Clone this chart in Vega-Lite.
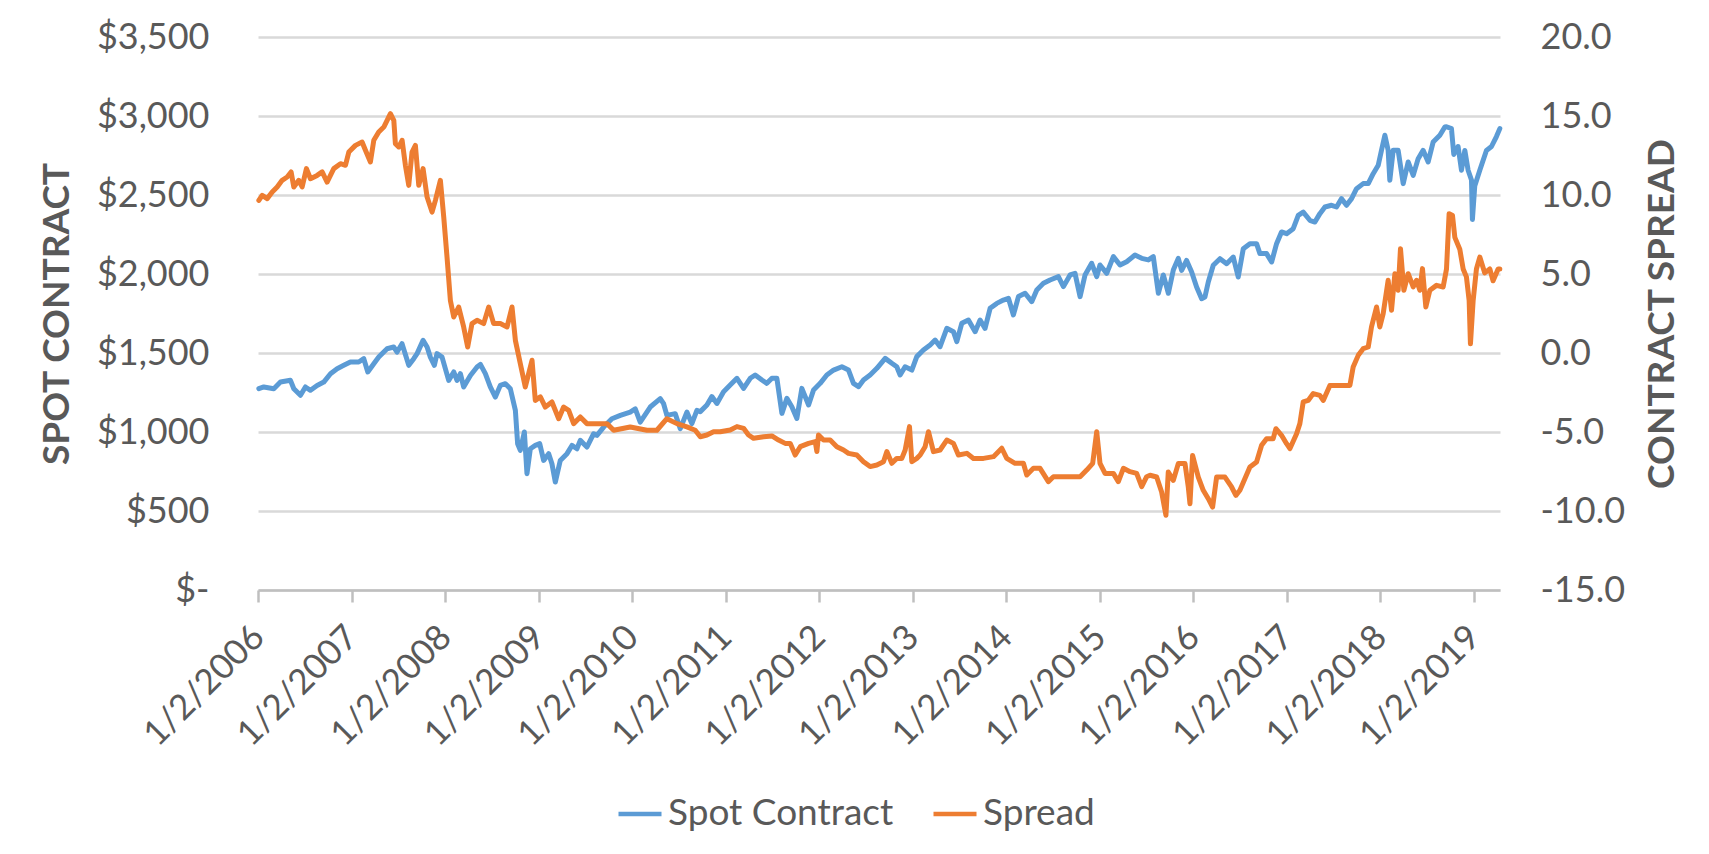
{
  "$schema": "https://vega.github.io/schema/vega-lite/v6.json",
  "width": 1242,
  "height": 553,
  "autosize": {"type": "none"},
  "padding": {"left": 258, "top": 37, "right": 209, "bottom": 264},
  "background": "#ffffff",
  "config": {
    "view": {"stroke": null},
    "font": "Lato",
    "axis": {"labelFont": "Lato", "titleFont": "Lato"},
    "legend": {"labelFont": "Lato"}
  },
  "data": {
    "values": [
      {"year": 2006.009, "series": "Spot Contract", "value": 1274},
      {"year": 2006.062, "series": "Spot Contract", "value": 1285},
      {"year": 2006.169, "series": "Spot Contract", "value": 1274},
      {"year": 2006.240, "series": "Spot Contract", "value": 1316},
      {"year": 2006.347, "series": "Spot Contract", "value": 1327},
      {"year": 2006.383, "series": "Spot Contract", "value": 1274},
      {"year": 2006.454, "series": "Spot Contract", "value": 1232},
      {"year": 2006.507, "series": "Spot Contract", "value": 1285},
      {"year": 2006.561, "series": "Spot Contract", "value": 1264},
      {"year": 2006.632, "series": "Spot Contract", "value": 1295},
      {"year": 2006.703, "series": "Spot Contract", "value": 1316},
      {"year": 2006.775, "series": "Spot Contract", "value": 1369},
      {"year": 2006.846, "series": "Spot Contract", "value": 1401},
      {"year": 2006.917, "series": "Spot Contract", "value": 1422},
      {"year": 2006.988, "series": "Spot Contract", "value": 1443},
      {"year": 2007.077, "series": "Spot Contract", "value": 1443},
      {"year": 2007.131, "series": "Spot Contract", "value": 1464},
      {"year": 2007.174, "series": "Spot Contract", "value": 1380},
      {"year": 2007.238, "series": "Spot Contract", "value": 1432},
      {"year": 2007.291, "series": "Spot Contract", "value": 1474},
      {"year": 2007.380, "series": "Spot Contract", "value": 1527},
      {"year": 2007.451, "series": "Spot Contract", "value": 1538},
      {"year": 2007.487, "series": "Spot Contract", "value": 1506},
      {"year": 2007.540, "series": "Spot Contract", "value": 1559},
      {"year": 2007.612, "series": "Spot Contract", "value": 1422},
      {"year": 2007.665, "series": "Spot Contract", "value": 1464},
      {"year": 2007.701, "series": "Spot Contract", "value": 1496},
      {"year": 2007.765, "series": "Spot Contract", "value": 1580},
      {"year": 2007.808, "series": "Spot Contract", "value": 1538},
      {"year": 2007.843, "series": "Spot Contract", "value": 1474},
      {"year": 2007.886, "series": "Spot Contract", "value": 1422},
      {"year": 2007.914, "series": "Spot Contract", "value": 1496},
      {"year": 2007.968, "series": "Spot Contract", "value": 1474},
      {"year": 2008.039, "series": "Spot Contract", "value": 1327},
      {"year": 2008.093, "series": "Spot Contract", "value": 1380},
      {"year": 2008.128, "series": "Spot Contract", "value": 1327},
      {"year": 2008.164, "series": "Spot Contract", "value": 1369},
      {"year": 2008.199, "series": "Spot Contract", "value": 1285},
      {"year": 2008.271, "series": "Spot Contract", "value": 1358},
      {"year": 2008.342, "series": "Spot Contract", "value": 1411},
      {"year": 2008.378, "series": "Spot Contract", "value": 1428},
      {"year": 2008.431, "series": "Spot Contract", "value": 1369},
      {"year": 2008.484, "series": "Spot Contract", "value": 1285},
      {"year": 2008.538, "series": "Spot Contract", "value": 1221},
      {"year": 2008.591, "series": "Spot Contract", "value": 1295},
      {"year": 2008.645, "series": "Spot Contract", "value": 1306},
      {"year": 2008.698, "series": "Spot Contract", "value": 1274},
      {"year": 2008.752, "series": "Spot Contract", "value": 1137},
      {"year": 2008.776, "series": "Spot Contract", "value": 926},
      {"year": 2008.805, "series": "Spot Contract", "value": 884},
      {"year": 2008.848, "series": "Spot Contract", "value": 1000},
      {"year": 2008.876, "series": "Spot Contract", "value": 736},
      {"year": 2008.912, "series": "Spot Contract", "value": 894},
      {"year": 2008.965, "series": "Spot Contract", "value": 915},
      {"year": 2009.012, "series": "Spot Contract", "value": 926},
      {"year": 2009.054, "series": "Spot Contract", "value": 820},
      {"year": 2009.108, "series": "Spot Contract", "value": 863},
      {"year": 2009.143, "series": "Spot Contract", "value": 799},
      {"year": 2009.179, "series": "Spot Contract", "value": 683},
      {"year": 2009.232, "series": "Spot Contract", "value": 820},
      {"year": 2009.304, "series": "Spot Contract", "value": 863},
      {"year": 2009.357, "series": "Spot Contract", "value": 915},
      {"year": 2009.410, "series": "Spot Contract", "value": 894},
      {"year": 2009.446, "series": "Spot Contract", "value": 947},
      {"year": 2009.517, "series": "Spot Contract", "value": 905},
      {"year": 2009.589, "series": "Spot Contract", "value": 989},
      {"year": 2009.624, "series": "Spot Contract", "value": 979},
      {"year": 2009.696, "series": "Spot Contract", "value": 1031},
      {"year": 2009.784, "series": "Spot Contract", "value": 1084},
      {"year": 2009.874, "series": "Spot Contract", "value": 1105},
      {"year": 2009.980, "series": "Spot Contract", "value": 1126},
      {"year": 2010.034, "series": "Spot Contract", "value": 1147},
      {"year": 2010.087, "series": "Spot Contract", "value": 1063},
      {"year": 2010.194, "series": "Spot Contract", "value": 1158},
      {"year": 2010.301, "series": "Spot Contract", "value": 1211},
      {"year": 2010.337, "series": "Spot Contract", "value": 1179},
      {"year": 2010.372, "series": "Spot Contract", "value": 1105},
      {"year": 2010.461, "series": "Spot Contract", "value": 1116},
      {"year": 2010.515, "series": "Spot Contract", "value": 1021},
      {"year": 2010.586, "series": "Spot Contract", "value": 1126},
      {"year": 2010.639, "series": "Spot Contract", "value": 1053},
      {"year": 2010.693, "series": "Spot Contract", "value": 1137},
      {"year": 2010.729, "series": "Spot Contract", "value": 1129},
      {"year": 2010.800, "series": "Spot Contract", "value": 1171},
      {"year": 2010.853, "series": "Spot Contract", "value": 1224},
      {"year": 2010.907, "series": "Spot Contract", "value": 1181},
      {"year": 2010.978, "series": "Spot Contract", "value": 1255},
      {"year": 2011.049, "series": "Spot Contract", "value": 1297},
      {"year": 2011.121, "series": "Spot Contract", "value": 1340},
      {"year": 2011.192, "series": "Spot Contract", "value": 1276},
      {"year": 2011.263, "series": "Spot Contract", "value": 1340},
      {"year": 2011.316, "series": "Spot Contract", "value": 1361},
      {"year": 2011.388, "series": "Spot Contract", "value": 1329},
      {"year": 2011.441, "series": "Spot Contract", "value": 1308},
      {"year": 2011.495, "series": "Spot Contract", "value": 1340},
      {"year": 2011.548, "series": "Spot Contract", "value": 1340},
      {"year": 2011.602, "series": "Spot Contract", "value": 1118},
      {"year": 2011.655, "series": "Spot Contract", "value": 1213},
      {"year": 2011.708, "series": "Spot Contract", "value": 1160},
      {"year": 2011.762, "series": "Spot Contract", "value": 1086},
      {"year": 2011.815, "series": "Spot Contract", "value": 1276},
      {"year": 2011.887, "series": "Spot Contract", "value": 1171},
      {"year": 2011.940, "series": "Spot Contract", "value": 1266},
      {"year": 2012.011, "series": "Spot Contract", "value": 1308},
      {"year": 2012.082, "series": "Spot Contract", "value": 1361},
      {"year": 2012.154, "series": "Spot Contract", "value": 1392},
      {"year": 2012.243, "series": "Spot Contract", "value": 1413},
      {"year": 2012.314, "series": "Spot Contract", "value": 1392},
      {"year": 2012.367, "series": "Spot Contract", "value": 1308},
      {"year": 2012.421, "series": "Spot Contract", "value": 1287},
      {"year": 2012.474, "series": "Spot Contract", "value": 1329},
      {"year": 2012.545, "series": "Spot Contract", "value": 1361},
      {"year": 2012.617, "series": "Spot Contract", "value": 1403},
      {"year": 2012.706, "series": "Spot Contract", "value": 1466},
      {"year": 2012.777, "series": "Spot Contract", "value": 1435},
      {"year": 2012.830, "series": "Spot Contract", "value": 1413},
      {"year": 2012.866, "series": "Spot Contract", "value": 1361},
      {"year": 2012.919, "series": "Spot Contract", "value": 1413},
      {"year": 2012.991, "series": "Spot Contract", "value": 1392},
      {"year": 2013.044, "series": "Spot Contract", "value": 1477},
      {"year": 2013.115, "series": "Spot Contract", "value": 1519},
      {"year": 2013.187, "series": "Spot Contract", "value": 1551},
      {"year": 2013.240, "series": "Spot Contract", "value": 1582},
      {"year": 2013.293, "series": "Spot Contract", "value": 1540},
      {"year": 2013.365, "series": "Spot Contract", "value": 1656},
      {"year": 2013.436, "series": "Spot Contract", "value": 1635},
      {"year": 2013.472, "series": "Spot Contract", "value": 1572},
      {"year": 2013.525, "series": "Spot Contract", "value": 1688},
      {"year": 2013.596, "series": "Spot Contract", "value": 1709},
      {"year": 2013.668, "series": "Spot Contract", "value": 1635},
      {"year": 2013.721, "series": "Spot Contract", "value": 1709},
      {"year": 2013.774, "series": "Spot Contract", "value": 1656},
      {"year": 2013.828, "series": "Spot Contract", "value": 1783},
      {"year": 2013.899, "series": "Spot Contract", "value": 1814},
      {"year": 2013.970, "series": "Spot Contract", "value": 1835},
      {"year": 2014.024, "series": "Spot Contract", "value": 1846},
      {"year": 2014.077, "series": "Spot Contract", "value": 1741},
      {"year": 2014.131, "series": "Spot Contract", "value": 1857},
      {"year": 2014.202, "series": "Spot Contract", "value": 1878},
      {"year": 2014.273, "series": "Spot Contract", "value": 1825},
      {"year": 2014.327, "series": "Spot Contract", "value": 1899},
      {"year": 2014.398, "series": "Spot Contract", "value": 1941},
      {"year": 2014.469, "series": "Spot Contract", "value": 1962},
      {"year": 2014.558, "series": "Spot Contract", "value": 1983},
      {"year": 2014.612, "series": "Spot Contract", "value": 1920},
      {"year": 2014.683, "series": "Spot Contract", "value": 1994},
      {"year": 2014.736, "series": "Spot Contract", "value": 2004},
      {"year": 2014.790, "series": "Spot Contract", "value": 1857},
      {"year": 2014.843, "series": "Spot Contract", "value": 1994},
      {"year": 2014.914, "series": "Spot Contract", "value": 2068},
      {"year": 2014.968, "series": "Spot Contract", "value": 1983},
      {"year": 2015.003, "series": "Spot Contract", "value": 2057},
      {"year": 2015.075, "series": "Spot Contract", "value": 2004},
      {"year": 2015.146, "series": "Spot Contract", "value": 2110},
      {"year": 2015.217, "series": "Spot Contract", "value": 2057},
      {"year": 2015.288, "series": "Spot Contract", "value": 2078},
      {"year": 2015.377, "series": "Spot Contract", "value": 2120},
      {"year": 2015.449, "series": "Spot Contract", "value": 2099},
      {"year": 2015.520, "series": "Spot Contract", "value": 2089},
      {"year": 2015.573, "series": "Spot Contract", "value": 2110},
      {"year": 2015.627, "series": "Spot Contract", "value": 1878},
      {"year": 2015.680, "series": "Spot Contract", "value": 1994},
      {"year": 2015.734, "series": "Spot Contract", "value": 1878},
      {"year": 2015.787, "series": "Spot Contract", "value": 2025},
      {"year": 2015.840, "series": "Spot Contract", "value": 2099},
      {"year": 2015.876, "series": "Spot Contract", "value": 2023},
      {"year": 2015.929, "series": "Spot Contract", "value": 2086},
      {"year": 2015.983, "series": "Spot Contract", "value": 2013},
      {"year": 2016.036, "series": "Spot Contract", "value": 1918},
      {"year": 2016.090, "series": "Spot Contract", "value": 1844},
      {"year": 2016.125, "series": "Spot Contract", "value": 1854},
      {"year": 2016.161, "series": "Spot Contract", "value": 1949},
      {"year": 2016.214, "series": "Spot Contract", "value": 2055},
      {"year": 2016.286, "series": "Spot Contract", "value": 2097},
      {"year": 2016.357, "series": "Spot Contract", "value": 2065},
      {"year": 2016.428, "series": "Spot Contract", "value": 2107},
      {"year": 2016.481, "series": "Spot Contract", "value": 1981},
      {"year": 2016.535, "series": "Spot Contract", "value": 2160},
      {"year": 2016.606, "series": "Spot Contract", "value": 2192},
      {"year": 2016.677, "series": "Spot Contract", "value": 2192},
      {"year": 2016.713, "series": "Spot Contract", "value": 2129},
      {"year": 2016.784, "series": "Spot Contract", "value": 2129},
      {"year": 2016.838, "series": "Spot Contract", "value": 2076},
      {"year": 2016.891, "series": "Spot Contract", "value": 2192},
      {"year": 2016.944, "series": "Spot Contract", "value": 2266},
      {"year": 2016.998, "series": "Spot Contract", "value": 2255},
      {"year": 2017.069, "series": "Spot Contract", "value": 2287},
      {"year": 2017.123, "series": "Spot Contract", "value": 2371},
      {"year": 2017.176, "series": "Spot Contract", "value": 2392},
      {"year": 2017.247, "series": "Spot Contract", "value": 2340},
      {"year": 2017.301, "series": "Spot Contract", "value": 2329},
      {"year": 2017.354, "series": "Spot Contract", "value": 2382},
      {"year": 2017.408, "series": "Spot Contract", "value": 2424},
      {"year": 2017.479, "series": "Spot Contract", "value": 2435},
      {"year": 2017.532, "series": "Spot Contract", "value": 2424},
      {"year": 2017.586, "series": "Spot Contract", "value": 2477},
      {"year": 2017.639, "series": "Spot Contract", "value": 2435},
      {"year": 2017.693, "series": "Spot Contract", "value": 2477},
      {"year": 2017.746, "series": "Spot Contract", "value": 2540},
      {"year": 2017.817, "series": "Spot Contract", "value": 2572},
      {"year": 2017.871, "series": "Spot Contract", "value": 2572},
      {"year": 2017.924, "series": "Spot Contract", "value": 2635},
      {"year": 2017.978, "series": "Spot Contract", "value": 2688},
      {"year": 2018.013, "series": "Spot Contract", "value": 2783},
      {"year": 2018.049, "series": "Spot Contract", "value": 2878},
      {"year": 2018.084, "series": "Spot Contract", "value": 2783},
      {"year": 2018.102, "series": "Spot Contract", "value": 2593},
      {"year": 2018.138, "series": "Spot Contract", "value": 2783},
      {"year": 2018.191, "series": "Spot Contract", "value": 2783},
      {"year": 2018.245, "series": "Spot Contract", "value": 2572},
      {"year": 2018.298, "series": "Spot Contract", "value": 2709},
      {"year": 2018.352, "series": "Spot Contract", "value": 2624},
      {"year": 2018.405, "series": "Spot Contract", "value": 2730},
      {"year": 2018.458, "series": "Spot Contract", "value": 2783},
      {"year": 2018.512, "series": "Spot Contract", "value": 2709},
      {"year": 2018.565, "series": "Spot Contract", "value": 2835},
      {"year": 2018.637, "series": "Spot Contract", "value": 2878},
      {"year": 2018.690, "series": "Spot Contract", "value": 2930},
      {"year": 2018.708, "series": "Spot Contract", "value": 2932},
      {"year": 2018.761, "series": "Spot Contract", "value": 2920},
      {"year": 2018.786, "series": "Spot Contract", "value": 2757},
      {"year": 2018.832, "series": "Spot Contract", "value": 2807},
      {"year": 2018.868, "series": "Spot Contract", "value": 2657},
      {"year": 2018.904, "series": "Spot Contract", "value": 2782},
      {"year": 2018.939, "series": "Spot Contract", "value": 2657},
      {"year": 2018.975, "series": "Spot Contract", "value": 2595},
      {"year": 2018.985, "series": "Spot Contract", "value": 2345},
      {"year": 2019.010, "series": "Spot Contract", "value": 2557},
      {"year": 2019.064, "series": "Spot Contract", "value": 2657},
      {"year": 2019.135, "series": "Spot Contract", "value": 2782},
      {"year": 2019.189, "series": "Spot Contract", "value": 2807},
      {"year": 2019.242, "series": "Spot Contract", "value": 2870},
      {"year": 2019.278, "series": "Spot Contract", "value": 2920},

      {"year": 2006.009, "series": "Spread", "value": 9.66},
      {"year": 2006.045, "series": "Spread", "value": 9.98},
      {"year": 2006.098, "series": "Spread", "value": 9.77},
      {"year": 2006.152, "series": "Spread", "value": 10.19},
      {"year": 2006.205, "series": "Spread", "value": 10.51},
      {"year": 2006.258, "series": "Spread", "value": 10.93},
      {"year": 2006.312, "series": "Spread", "value": 11.14},
      {"year": 2006.354, "series": "Spread", "value": 11.46},
      {"year": 2006.383, "series": "Spread", "value": 10.51},
      {"year": 2006.436, "series": "Spread", "value": 10.93},
      {"year": 2006.472, "series": "Spread", "value": 10.51},
      {"year": 2006.518, "series": "Spread", "value": 11.67},
      {"year": 2006.561, "series": "Spread", "value": 11.03},
      {"year": 2006.632, "series": "Spread", "value": 11.24},
      {"year": 2006.686, "series": "Spread", "value": 11.46},
      {"year": 2006.739, "series": "Spread", "value": 10.82},
      {"year": 2006.810, "series": "Spread", "value": 11.67},
      {"year": 2006.882, "series": "Spread", "value": 11.98},
      {"year": 2006.935, "series": "Spread", "value": 11.88},
      {"year": 2006.971, "series": "Spread", "value": 12.72},
      {"year": 2007.042, "series": "Spread", "value": 13.14},
      {"year": 2007.113, "series": "Spread", "value": 13.35},
      {"year": 2007.149, "series": "Spread", "value": 12.83},
      {"year": 2007.202, "series": "Spread", "value": 12.09},
      {"year": 2007.238, "series": "Spread", "value": 13.46},
      {"year": 2007.291, "series": "Spread", "value": 13.99},
      {"year": 2007.345, "series": "Spread", "value": 14.30},
      {"year": 2007.416, "series": "Spread", "value": 15.15},
      {"year": 2007.452, "series": "Spread", "value": 14.73},
      {"year": 2007.469, "series": "Spread", "value": 13.25},
      {"year": 2007.505, "series": "Spread", "value": 13.04},
      {"year": 2007.541, "series": "Spread", "value": 13.46},
      {"year": 2007.576, "series": "Spread", "value": 11.88},
      {"year": 2007.612, "series": "Spread", "value": 10.61},
      {"year": 2007.647, "series": "Spread", "value": 12.72},
      {"year": 2007.683, "series": "Spread", "value": 13.14},
      {"year": 2007.719, "series": "Spread", "value": 10.61},
      {"year": 2007.765, "series": "Spread", "value": 11.67},
      {"year": 2007.808, "series": "Spread", "value": 9.87},
      {"year": 2007.861, "series": "Spread", "value": 8.92},
      {"year": 2007.897, "series": "Spread", "value": 9.66},
      {"year": 2007.950, "series": "Spread", "value": 10.93},
      {"year": 2007.986, "series": "Spread", "value": 8.61},
      {"year": 2008.021, "series": "Spread", "value": 6.08},
      {"year": 2008.057, "series": "Spread", "value": 3.33},
      {"year": 2008.093, "series": "Spread", "value": 2.28},
      {"year": 2008.146, "series": "Spread", "value": 2.91},
      {"year": 2008.199, "series": "Spread", "value": 1.65},
      {"year": 2008.242, "series": "Spread", "value": 0.38},
      {"year": 2008.288, "series": "Spread", "value": 1.86},
      {"year": 2008.342, "series": "Spread", "value": 2.07},
      {"year": 2008.413, "series": "Spread", "value": 1.86},
      {"year": 2008.467, "series": "Spread", "value": 2.91},
      {"year": 2008.520, "series": "Spread", "value": 1.86},
      {"year": 2008.591, "series": "Spread", "value": 1.86},
      {"year": 2008.663, "series": "Spread", "value": 1.65},
      {"year": 2008.716, "series": "Spread", "value": 2.91},
      {"year": 2008.752, "series": "Spread", "value": 0.80},
      {"year": 2008.805, "series": "Spread", "value": -0.68},
      {"year": 2008.858, "series": "Spread", "value": -2.15},
      {"year": 2008.930, "series": "Spread", "value": -0.46},
      {"year": 2008.965, "series": "Spread", "value": -3.00},
      {"year": 2009.019, "series": "Spread", "value": -2.78},
      {"year": 2009.072, "series": "Spread", "value": -3.42},
      {"year": 2009.143, "series": "Spread", "value": -3.10},
      {"year": 2009.215, "series": "Spread", "value": -4.16},
      {"year": 2009.268, "series": "Spread", "value": -3.42},
      {"year": 2009.322, "series": "Spread", "value": -3.63},
      {"year": 2009.375, "series": "Spread", "value": -4.47},
      {"year": 2009.446, "series": "Spread", "value": -4.05},
      {"year": 2009.517, "series": "Spread", "value": -4.47},
      {"year": 2009.624, "series": "Spread", "value": -4.47},
      {"year": 2009.731, "series": "Spread", "value": -4.47},
      {"year": 2009.803, "series": "Spread", "value": -4.89},
      {"year": 2009.980, "series": "Spread", "value": -4.68},
      {"year": 2010.159, "series": "Spread", "value": -4.89},
      {"year": 2010.265, "series": "Spread", "value": -4.89},
      {"year": 2010.372, "series": "Spread", "value": -4.16},
      {"year": 2010.479, "series": "Spread", "value": -4.47},
      {"year": 2010.586, "series": "Spread", "value": -4.68},
      {"year": 2010.675, "series": "Spread", "value": -4.89},
      {"year": 2010.729, "series": "Spread", "value": -5.30},
      {"year": 2010.800, "series": "Spread", "value": -5.19},
      {"year": 2010.871, "series": "Spread", "value": -4.98},
      {"year": 2010.942, "series": "Spread", "value": -4.98},
      {"year": 2011.049, "series": "Spread", "value": -4.87},
      {"year": 2011.121, "series": "Spread", "value": -4.66},
      {"year": 2011.192, "series": "Spread", "value": -4.77},
      {"year": 2011.245, "series": "Spread", "value": -5.19},
      {"year": 2011.299, "series": "Spread", "value": -5.40},
      {"year": 2011.406, "series": "Spread", "value": -5.30},
      {"year": 2011.495, "series": "Spread", "value": -5.25},
      {"year": 2011.566, "series": "Spread", "value": -5.51},
      {"year": 2011.637, "series": "Spread", "value": -5.72},
      {"year": 2011.691, "series": "Spread", "value": -5.72},
      {"year": 2011.744, "series": "Spread", "value": -6.46},
      {"year": 2011.798, "series": "Spread", "value": -5.93},
      {"year": 2011.887, "series": "Spread", "value": -5.72},
      {"year": 2011.958, "series": "Spread", "value": -5.61},
      {"year": 2011.976, "series": "Spread", "value": -6.24},
      {"year": 2011.993, "series": "Spread", "value": -5.19},
      {"year": 2012.047, "series": "Spread", "value": -5.51},
      {"year": 2012.118, "series": "Spread", "value": -5.51},
      {"year": 2012.189, "series": "Spread", "value": -5.93},
      {"year": 2012.261, "series": "Spread", "value": -6.14},
      {"year": 2012.314, "series": "Spread", "value": -6.35},
      {"year": 2012.403, "series": "Spread", "value": -6.46},
      {"year": 2012.474, "series": "Spread", "value": -6.88},
      {"year": 2012.545, "series": "Spread", "value": -7.19},
      {"year": 2012.617, "series": "Spread", "value": -7.09},
      {"year": 2012.688, "series": "Spread", "value": -6.88},
      {"year": 2012.724, "series": "Spread", "value": -6.24},
      {"year": 2012.777, "series": "Spread", "value": -6.98},
      {"year": 2012.830, "series": "Spread", "value": -6.67},
      {"year": 2012.884, "series": "Spread", "value": -6.67},
      {"year": 2012.920, "series": "Spread", "value": -6.14},
      {"year": 2012.966, "series": "Spread", "value": -4.66},
      {"year": 2012.991, "series": "Spread", "value": -6.88},
      {"year": 2013.044, "series": "Spread", "value": -6.67},
      {"year": 2013.080, "series": "Spread", "value": -6.46},
      {"year": 2013.133, "series": "Spread", "value": -5.93},
      {"year": 2013.169, "series": "Spread", "value": -4.98},
      {"year": 2013.222, "series": "Spread", "value": -6.24},
      {"year": 2013.293, "series": "Spread", "value": -6.14},
      {"year": 2013.365, "series": "Spread", "value": -5.51},
      {"year": 2013.436, "series": "Spread", "value": -5.72},
      {"year": 2013.489, "series": "Spread", "value": -6.46},
      {"year": 2013.579, "series": "Spread", "value": -6.35},
      {"year": 2013.650, "series": "Spread", "value": -6.67},
      {"year": 2013.757, "series": "Spread", "value": -6.67},
      {"year": 2013.864, "series": "Spread", "value": -6.56},
      {"year": 2013.953, "series": "Spread", "value": -6.03},
      {"year": 2014.006, "series": "Spread", "value": -6.67},
      {"year": 2014.095, "series": "Spread", "value": -6.98},
      {"year": 2014.184, "series": "Spread", "value": -6.98},
      {"year": 2014.220, "series": "Spread", "value": -7.72},
      {"year": 2014.291, "series": "Spread", "value": -7.30},
      {"year": 2014.362, "series": "Spread", "value": -7.30},
      {"year": 2014.451, "series": "Spread", "value": -8.14},
      {"year": 2014.505, "series": "Spread", "value": -7.83},
      {"year": 2014.647, "series": "Spread", "value": -7.83},
      {"year": 2014.790, "series": "Spread", "value": -7.83},
      {"year": 2014.861, "series": "Spread", "value": -7.41},
      {"year": 2014.925, "series": "Spread", "value": -6.98},
      {"year": 2014.968, "series": "Spread", "value": -4.98},
      {"year": 2015.003, "series": "Spread", "value": -6.98},
      {"year": 2015.057, "series": "Spread", "value": -7.62},
      {"year": 2015.146, "series": "Spread", "value": -7.62},
      {"year": 2015.199, "series": "Spread", "value": -8.14},
      {"year": 2015.253, "series": "Spread", "value": -7.30},
      {"year": 2015.324, "series": "Spread", "value": -7.51},
      {"year": 2015.395, "series": "Spread", "value": -7.62},
      {"year": 2015.449, "series": "Spread", "value": -8.46},
      {"year": 2015.502, "series": "Spread", "value": -7.83},
      {"year": 2015.538, "series": "Spread", "value": -7.74},
      {"year": 2015.609, "series": "Spread", "value": -7.85},
      {"year": 2015.662, "series": "Spread", "value": -8.80},
      {"year": 2015.708, "series": "Spread", "value": -10.27},
      {"year": 2015.733, "series": "Spread", "value": -7.53},
      {"year": 2015.787, "series": "Spread", "value": -8.06},
      {"year": 2015.840, "series": "Spread", "value": -7.00},
      {"year": 2015.912, "series": "Spread", "value": -7.00},
      {"year": 2015.947, "series": "Spread", "value": -8.48},
      {"year": 2015.965, "series": "Spread", "value": -9.54},
      {"year": 2015.993, "series": "Spread", "value": -6.48},
      {"year": 2016.054, "series": "Spread", "value": -7.85},
      {"year": 2016.107, "series": "Spread", "value": -8.69},
      {"year": 2016.161, "series": "Spread", "value": -9.22},
      {"year": 2016.207, "series": "Spread", "value": -9.75},
      {"year": 2016.250, "series": "Spread", "value": -7.85},
      {"year": 2016.339, "series": "Spread", "value": -7.85},
      {"year": 2016.410, "series": "Spread", "value": -8.48},
      {"year": 2016.456, "series": "Spread", "value": -9.01},
      {"year": 2016.499, "series": "Spread", "value": -8.69},
      {"year": 2016.553, "series": "Spread", "value": -7.95},
      {"year": 2016.606, "series": "Spread", "value": -7.22},
      {"year": 2016.677, "series": "Spread", "value": -6.90},
      {"year": 2016.731, "series": "Spread", "value": -5.84},
      {"year": 2016.784, "series": "Spread", "value": -5.42},
      {"year": 2016.855, "series": "Spread", "value": -5.42},
      {"year": 2016.884, "series": "Spread", "value": -4.79},
      {"year": 2016.944, "series": "Spread", "value": -5.21},
      {"year": 2016.998, "series": "Spread", "value": -5.74},
      {"year": 2017.034, "series": "Spread", "value": -6.05},
      {"year": 2017.105, "series": "Spread", "value": -5.11},
      {"year": 2017.140, "series": "Spread", "value": -4.47},
      {"year": 2017.176, "series": "Spread", "value": -3.10},
      {"year": 2017.229, "series": "Spread", "value": -3.00},
      {"year": 2017.283, "series": "Spread", "value": -2.57},
      {"year": 2017.354, "series": "Spread", "value": -2.68},
      {"year": 2017.390, "series": "Spread", "value": -3.00},
      {"year": 2017.461, "series": "Spread", "value": -2.05},
      {"year": 2017.550, "series": "Spread", "value": -2.05},
      {"year": 2017.603, "series": "Spread", "value": -2.05},
      {"year": 2017.675, "series": "Spread", "value": -2.05},
      {"year": 2017.710, "series": "Spread", "value": -0.89},
      {"year": 2017.764, "series": "Spread", "value": -0.15},
      {"year": 2017.817, "series": "Spread", "value": 0.27},
      {"year": 2017.871, "series": "Spread", "value": 0.38},
      {"year": 2017.906, "series": "Spread", "value": 1.65},
      {"year": 2017.960, "series": "Spread", "value": 2.91},
      {"year": 2017.995, "series": "Spread", "value": 1.65},
      {"year": 2018.031, "series": "Spread", "value": 2.49},
      {"year": 2018.084, "series": "Spread", "value": 4.60},
      {"year": 2018.120, "series": "Spread", "value": 2.70},
      {"year": 2018.156, "series": "Spread", "value": 5.02},
      {"year": 2018.191, "series": "Spread", "value": 3.97},
      {"year": 2018.216, "series": "Spread", "value": 6.60},
      {"year": 2018.252, "series": "Spread", "value": 3.97},
      {"year": 2018.298, "series": "Spread", "value": 5.02},
      {"year": 2018.352, "series": "Spread", "value": 4.18},
      {"year": 2018.387, "series": "Spread", "value": 4.60},
      {"year": 2018.423, "series": "Spread", "value": 3.97},
      {"year": 2018.451, "series": "Spread", "value": 5.34},
      {"year": 2018.487, "series": "Spread", "value": 2.91},
      {"year": 2018.530, "series": "Spread", "value": 3.97},
      {"year": 2018.601, "series": "Spread", "value": 4.28},
      {"year": 2018.672, "series": "Spread", "value": 4.18},
      {"year": 2018.708, "series": "Spread", "value": 5.32},
      {"year": 2018.736, "series": "Spread", "value": 8.82},
      {"year": 2018.772, "series": "Spread", "value": 8.70},
      {"year": 2018.797, "series": "Spread", "value": 7.32},
      {"year": 2018.850, "series": "Spread", "value": 6.57},
      {"year": 2018.886, "series": "Spread", "value": 5.32},
      {"year": 2018.921, "series": "Spread", "value": 4.82},
      {"year": 2018.950, "series": "Spread", "value": 3.33},
      {"year": 2018.964, "series": "Spread", "value": 0.58},
      {"year": 2018.993, "series": "Spread", "value": 3.33},
      {"year": 2019.028, "series": "Spread", "value": 5.32},
      {"year": 2019.064, "series": "Spread", "value": 6.07},
      {"year": 2019.117, "series": "Spread", "value": 5.07},
      {"year": 2019.171, "series": "Spread", "value": 5.32},
      {"year": 2019.206, "series": "Spread", "value": 4.57},
      {"year": 2019.260, "series": "Spread", "value": 5.32},
      {"year": 2019.278, "series": "Spread", "value": 5.32}
    ]
  },
  "encoding": {
    "x": {
      "field": "year",
      "type": "quantitative",
      "scale": {"domain": [2006, 2019.28], "nice": false, "zero": false},
      "axis": {
        "title": null,
        "values": [2006, 2007, 2008, 2009, 2010, 2011, 2012, 2013, 2014, 2015, 2016, 2017, 2018, 2019],
        "labelExpr": "'1/2/' + datum.value",
        "labelAngle": -45,
        "labelAlign": "right",
        "labelBaseline": "middle",
        "labelFontSize": 35,
        "labelColor": "#595959",
        "labelPadding": 29,
        "labelOverlap": false,
        "labelBound": false,
        "labelFlush": false,
        "tickSize": 12,
        "tickColor": "#bfbfbf",
        "tickWidth": 2.5,
        "domainColor": "#bfbfbf",
        "domainWidth": 2.5,
        "grid": false,
        "zindex": 1
      }
    },
    "color": {
      "field": "series",
      "type": "nominal",
      "scale": {"domain": ["Spot Contract", "Spread"], "range": ["#5b9bd5", "#ed7d31"]},
      "legend": {
        "title": null,
        "orient": "none",
        "direction": "horizontal",
        "legendX": 358,
        "legendY": 753,
        "symbolType": "stroke",
        "symbolSize": 1849,
        "symbolStrokeWidth": 4.5,
        "labelFontSize": 37,
        "labelLimit": 600,
        "labelColor": "#595959",
        "labelOffset": 4,
        "columnPadding": 30,
        "padding": 0
      }
    }
  },
  "layer": [
    {
      "transform": [{"filter": "datum.series == 'Spot Contract'"}],
      "mark": {"type": "line", "strokeWidth": 5, "strokeJoin": "round", "strokeCap": "round"},
      "encoding": {
        "y": {
          "field": "value",
          "type": "quantitative",
          "scale": {"domain": [0, 3500], "nice": false},
          "axis": {
            "orient": "left",
            "values": [0, 500, 1000, 1500, 2000, 2500, 3000, 3500],
            "labelExpr": "datum.value == 0 ? '$-' : '$' + format(datum.value, ',')",
            "grid": true,
            "gridColor": "#d9d9d9",
            "gridWidth": 2.3,
            "domain": false,
            "ticks": false,
            "labelPadding": 49,
            "labelFontSize": 36,
            "labelColor": "#595959",
            "title": "SPOT CONTRACT",
            "titleFontSize": 37,
            "titleFontWeight": "bold",
            "titleColor": "#595959",
            "titleAngle": -90,
            "titleX": -190,
            "titleY": 276.5,
            "titleAlign": "center",
            "titleBaseline": "alphabetic"
          }
        }
      }
    },
    {
      "transform": [{"filter": "datum.series == 'Spread'"}],
      "mark": {"type": "line", "strokeWidth": 5, "strokeJoin": "round", "strokeCap": "round"},
      "encoding": {
        "y": {
          "field": "value",
          "type": "quantitative",
          "scale": {"domain": [-15, 20], "nice": false, "zero": false},
          "axis": {
            "orient": "right",
            "values": [-15, -10, -5, 0, 5, 10, 15, 20],
            "labelExpr": "(datum.value < 0 ? '-' : '') + format(abs(datum.value), '.1f')",
            "grid": false,
            "domain": false,
            "ticks": false,
            "labelPadding": 40,
            "labelAlign": "left",
            "labelFontSize": 36,
            "labelColor": "#595959",
            "title": "CONTRACT SPREAD",
            "titleFontSize": 37,
            "titleFontWeight": "bold",
            "titleColor": "#595959",
            "titleAngle": -90,
            "titleX": 173,
            "titleY": 276.5,
            "titleAlign": "center",
            "titleBaseline": "alphabetic"
          }
        }
      }
    }
  ],
  "resolve": {"scale": {"y": "independent"}}
}
